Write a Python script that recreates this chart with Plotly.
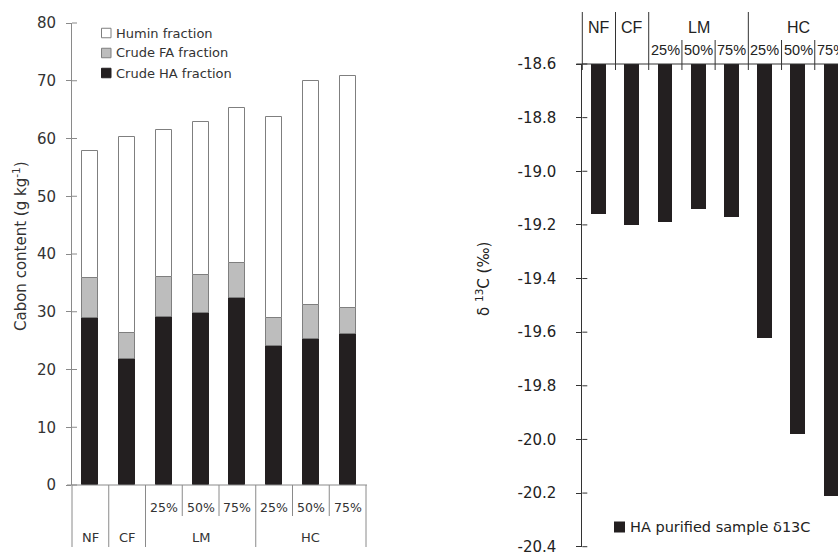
import plotly.graph_objects as go

# ---- data -------------------------------------------------------------
groups = ["NF", "CF", "LM", "LM", "LM", "HC", "HC", "HC"]
levels = ["", "", "25%", "50%", "75%", "25%", "50%", "75%"]

# carbon content, g/kg (stacked: HA at the bottom, then FA, then humin)
crude_ha = [28.9, 21.8, 29.1, 29.7, 32.3, 24.1, 25.2, 26.1]
crude_fa = [6.9, 4.5, 6.9, 6.7, 6.2, 4.8, 5.9, 4.6]
humin = [22.0, 33.9, 25.5, 26.5, 26.8, 34.8, 38.9, 40.2]
fraction_names = ["Humin fraction", "Crude FA fraction", "Crude HA fraction"]

# delta 13C of purified humic acid, per mil
d13c = [-19.16, -19.20, -19.19, -19.14, -19.17, -19.62, -19.98, -20.21]
d13c_name = "HA purified sample δ13C"

left_ticks = [0, 10, 20, 30, 40, 50, 60, 70, 80]
right_ticks = [-18.6, -18.8, -19.0, -19.2, -19.4, -19.6, -19.8, -20.0, -20.2, -20.4]

# ---- geometry helpers ----------------------------------------------------
W, H = 838, 553


def px(x):
    return x / W


def py(y):
    return 1 - y / H


n = len(groups)
idx = list(range(n))

L_X0, L_X1, L_Y0, L_Y1 = 72, 366, 485, 23          # left plot area (pixels)
R_X0, R_Y0, R_Y1 = 582.3, 546.7, 64                # right plot area (pixels)
R_XMAX = 7.2                                        # right plot is cut at the page edge
r_cat = (W - R_X0) / (R_XMAX + 0.5)


def lx(v):
    return L_X0 + (v + 0.5) * (L_X1 - L_X0) / n


def rx(v):
    return R_X0 + (v + 0.5) * r_cat


LEFT_FONT = "DejaVu Sans"
LEFT_TXT = "#333333"
LEFT_LINE = "#8a8a8a"
RIGHT_TXT = "#222222"
RIGHT_LINE = "#333333"
BLACK = "#231f20"


def label(x, y, text, font, anchor="center", angle=0):
    return dict(x=px(x), y=py(y), xref="paper", yref="paper", text=text,
                showarrow=False, xanchor=anchor, yanchor="middle",
                textangle=angle, font=font)


fig = go.Figure()

# ---- left: stacked carbon fractions --------------------------------------
fig.add_trace(go.Bar(x=idx, y=crude_ha, name=fraction_names[2], width=0.435,
                     marker=dict(color=BLACK, line=dict(color=BLACK, width=1)),
                     xaxis="x", yaxis="y", showlegend=False))
fig.add_trace(go.Bar(x=idx, y=crude_fa, name=fraction_names[1], width=0.435,
                     marker=dict(color="#bdbdbd", line=dict(color="#7f7f7f", width=1)),
                     xaxis="x", yaxis="y", showlegend=False))
fig.add_trace(go.Bar(x=idx, y=humin, name=fraction_names[0], width=0.435,
                     marker=dict(color="white", line=dict(color="#7f7f7f", width=1)),
                     xaxis="x", yaxis="y", showlegend=False))

# ---- right: delta 13C bars hanging from the top axis ---------------------
fig.add_trace(go.Bar(x=idx, y=d13c, name=d13c_name, width=0.45,
                     marker=dict(color=BLACK, line=dict(width=0)),
                     xaxis="x2", yaxis="y2", showlegend=False))

shapes = []
annotations = []

# left axis extras: crossing ticks, bottom line, category dividers
for t in left_ticks:
    yy = L_Y0 + (L_Y1 - L_Y0) * t / 80
    shapes.append(dict(type="line", xref="paper", yref="paper",
                       x0=px(L_X0), x1=px(L_X0 + 5), y0=py(yy), y1=py(yy),
                       line=dict(color=LEFT_LINE, width=1)))
shapes.append(dict(type="line", xref="paper", yref="paper",
                   x0=px(L_X0 - 5), x1=px(L_X1 + 1), y0=py(L_Y0), y1=py(L_Y0),
                   line=dict(color=LEFT_LINE, width=1)))
for b in range(n + 1):
    edge = b - 0.5
    full = b == 0 or b == n or groups[b - 1] != groups[b]
    y_end = 547 if full else 516
    shapes.append(dict(type="line", xref="paper", yref="paper",
                       x0=px(lx(edge)), x1=px(lx(edge)), y0=py(L_Y0), y1=py(y_end),
                       line=dict(color=LEFT_LINE, width=1)))

left_small = dict(family=LEFT_FONT, size=12.5, color=LEFT_TXT)
left_mid = dict(family=LEFT_FONT, size=13, color=LEFT_TXT)
for i, lev in enumerate(levels):
    if lev:
        annotations.append(label(lx(i), 507, lev, left_small))
seen = []
for g in groups:
    if g not in seen:
        seen.append(g)
for g in seen:
    members = [i for i in idx if groups[i] == g]
    c = sum(members) / len(members)
    annotations.append(label(lx(c), 537, g, left_mid))

annotations.append(label(20, 246, "Cabon content (g kg<sup>-1</sup>)",
                         dict(family=LEFT_FONT, size=15, color=LEFT_TXT), angle=-90))

# left legend
legend_rows = [(fraction_names[0], "white", "#7f7f7f"),
               (fraction_names[1], "#bdbdbd", "#7f7f7f"),
               (fraction_names[2], BLACK, BLACK)]
for k, (name, fill, edge) in enumerate(legend_rows):
    yc = 33 + 20 * k
    shapes.append(dict(type="rect", xref="paper", yref="paper",
                       x0=px(101.5), x1=px(111), y0=py(yc - 4.75), y1=py(yc + 4.75),
                       fillcolor=fill, line=dict(color=edge, width=1)))
    annotations.append(label(114, yc, name, left_mid, anchor="left"))

# right axis extras
for t in right_ticks:
    yy = R_Y1 + (R_Y0 - R_Y1) * (-18.6 - t) / 1.8
    shapes.append(dict(type="line", xref="paper", yref="paper",
                       x0=px(R_X0), x1=px(R_X0 + 5), y0=py(yy), y1=py(yy),
                       line=dict(color=RIGHT_LINE, width=1)))
shapes.append(dict(type="line", xref="paper", yref="paper",
                   x0=px(R_X0 - 6), x1=1, y0=py(R_Y1), y1=py(R_Y1),
                   line=dict(color=RIGHT_LINE, width=1)))
for b in range(n):
    edge = b - 0.5
    full = b == 0 or groups[b - 1] != groups[b]
    y_top = 12 if full else 40
    shapes.append(dict(type="line", xref="paper", yref="paper",
                       x0=px(rx(edge)), x1=px(rx(edge)), y0=py(70), y1=py(y_top),
                       line=dict(color=RIGHT_LINE, width=1)))

right_small = dict(family="Liberation Sans", size=14.5, color=RIGHT_TXT)
right_big = dict(family="Liberation Sans", size=16, color=RIGHT_TXT)
for i, lev in enumerate(levels):
    if lev:
        annotations.append(label(rx(i), 50, lev, right_small))
for g in seen:
    members = [i for i in idx if groups[i] == g]
    c = sum(members) / len(members)
    annotations.append(label(rx(c), 27, g, right_big))

annotations.append(label(483, 279, "δ <sup>13</sup>C (‰)",
                         dict(family=LEFT_FONT, size=15, color=RIGHT_TXT), angle=-90))

# right legend
shapes.append(dict(type="rect", xref="paper", yref="paper",
                   x0=px(614), x1=px(625), y0=py(521.5), y1=py(532.5),
                   fillcolor=BLACK, line=dict(color=BLACK, width=0)))
annotations.append(label(628, 527, d13c_name,
                         dict(family=LEFT_FONT, size=14.5, color=RIGHT_TXT), anchor="left"))

fig.update_layout(
    width=W, height=H,
    margin=dict(l=0, r=0, t=0, b=0, pad=0, autoexpand=False),
    paper_bgcolor="white", plot_bgcolor="white",
    barmode="relative", bargap=0,
    showlegend=False,
    shapes=shapes, annotations=annotations,
    xaxis=dict(domain=[px(L_X0), px(L_X1)], range=[-0.5, n - 0.5], anchor="y",
               showticklabels=False, showgrid=False, zeroline=False,
               showline=False, ticks="", automargin=False),
    yaxis=dict(domain=[py(L_Y0), py(L_Y1)], range=[0, 80], anchor="x",
               tickvals=left_ticks, ticktext=[str(t) for t in left_ticks],
               ticks="outside", ticklen=5, tickwidth=1,
               tickcolor=LEFT_LINE, showline=True, linecolor=LEFT_LINE, linewidth=1,
               showgrid=False, zeroline=False, ticklabelstandoff=7, automargin=False,
               ticklabeloverflow="allow",
               tickfont=dict(family=LEFT_FONT, size=15, color=LEFT_TXT)),
    xaxis2=dict(domain=[px(R_X0), 1.0], range=[-0.5, R_XMAX], anchor="y2",
                side="top", showticklabels=False, showgrid=False, zeroline=False,
                showline=False, ticks="", automargin=False),
    yaxis2=dict(domain=[py(R_Y0), py(R_Y1)], range=[-20.4, -18.6], anchor="x2",
                tickvals=right_ticks, ticktext=["%.1f" % t for t in right_ticks],
                ticks="outside", ticklen=5,
                tickwidth=1, tickcolor=RIGHT_LINE, showline=True,
                linecolor=RIGHT_LINE, linewidth=1, showgrid=False, zeroline=False,
                ticklabelstandoff=17, automargin=False, ticklabeloverflow="allow",
                tickfont=dict(family=LEFT_FONT, size=15, color=RIGHT_TXT)),
)

fig.write_html("out.html")
